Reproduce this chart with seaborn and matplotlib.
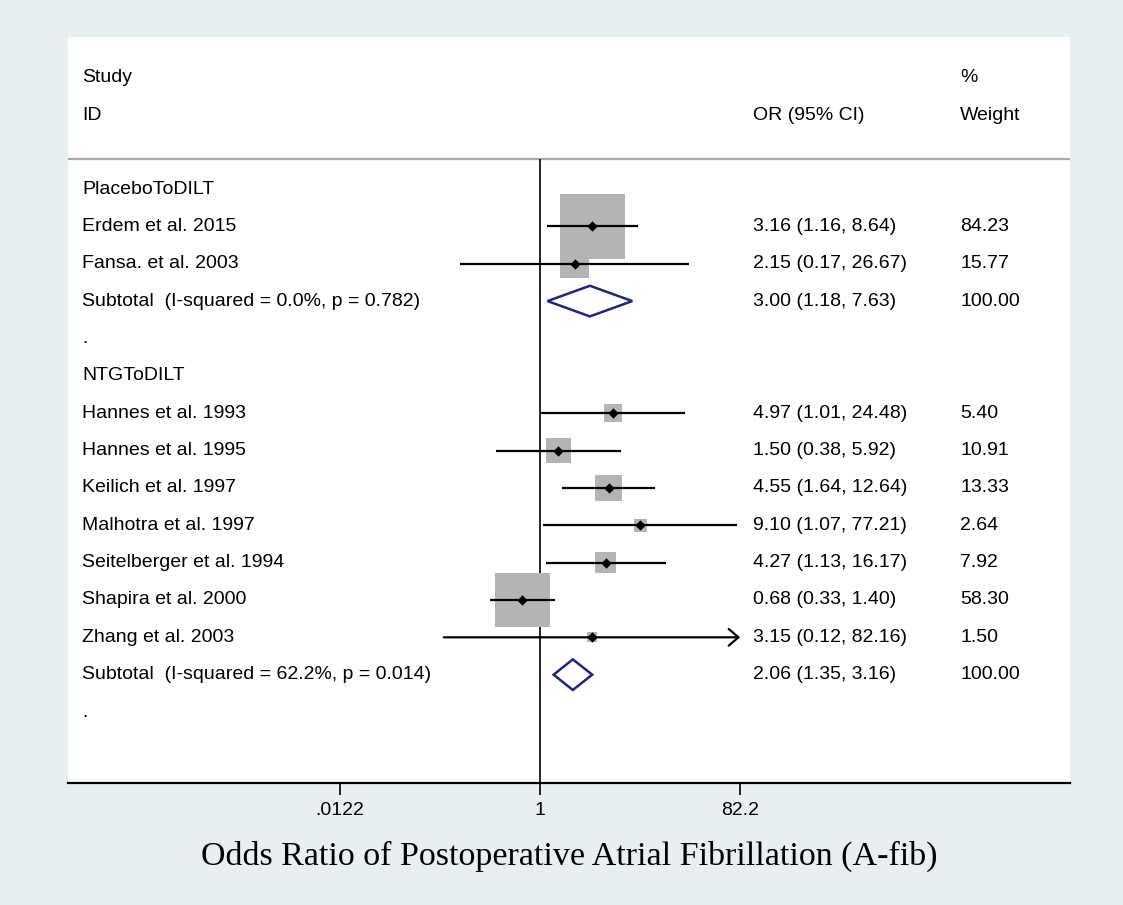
import numpy as np
import pandas as pd
import matplotlib
matplotlib.use("Agg")
import matplotlib.pyplot as plt
import seaborn as sns

# ---------------- data ----------------
row_labels = ["PlaceboToDILT", "Erdem et al. 2015", "Fansa. et al. 2003",
              "Subtotal  (I-squared = 0.0%, p = 0.782)", ".",
              "NTGToDILT", "Hannes et al. 1993", "Hannes et al. 1995",
              "Keilich et al. 1997", "Malhotra et al. 1997",
              "Seitelberger et al. 1994", "Shapira et al. 2000",
              "Zhang et al. 2003", "Subtotal  (I-squared = 62.2%, p = 0.014)", "."]
row_kind = ["group", "study", "study", "sub", "blank",
            "group", "study", "study", "study", "study", "study", "study",
            "study", "sub", "blank"]
or_est = [np.nan, 3.16, 2.15, 3.00, np.nan,
          np.nan, 4.97, 1.50, 4.55, 9.10, 4.27, 0.68, 3.15, 2.06, np.nan]
ci_low = [np.nan, 1.16, 0.17, 1.18, np.nan,
          np.nan, 1.01, 0.38, 1.64, 1.07, 1.13, 0.33, 0.12, 1.35, np.nan]
ci_high = [np.nan, 8.64, 26.67, 7.63, np.nan,
           np.nan, 24.48, 5.92, 12.64, 77.21, 16.17, 1.40, 82.16, 3.16, np.nan]
weights = [np.nan, 84.23, 15.77, 100.00, np.nan,
           np.nan, 5.40, 10.91, 13.33, 2.64, 7.92, 58.30, 1.50, 100.00, np.nan]
x_ticks = [0.0122, 1, 82.2]
x_tick_labels = [".0122", "1", "82.2"]
x_label = "Odds Ratio of Postoperative Atrial Fibrillation (A-fib)"

df = pd.DataFrame({"label": row_labels, "kind": row_kind, "est": or_est,
                   "lo": ci_low, "hi": ci_high, "w": weights})
df["row"] = np.arange(len(df))

# ---------------- style ----------------
sns.set_style("white")
plt.rcParams["font.family"] = ["Liberation Sans", "DejaVu Sans"]
plt.rcParams["text.color"] = "black"
plt.rcParams["xtick.color"] = "black"
plt.rcParams["axes.labelcolor"] = "black"

W, H = 1123, 905
bg = "#e8eff2"
fig = plt.figure(figsize=(W / 100, H / 100), dpi=100, facecolor=bg)
ax_l, ax_r, ax_t, ax_b = 68, 1070, 37, 783
ax = fig.add_axes([ax_l / W, 1 - ax_b / H, (ax_r - ax_l) / W, (ax_b - ax_t) / H])
ax.set_facecolor("white")

# x: log scale, px per ln unit
ppl = 45.4
x0 = 540
ax.set_xscale("log")
ax.set_xlim(np.exp((ax_l - x0) / ppl), np.exp((ax_r - x0) / ppl))
# y: rows
row0, rstep = 189, 37.36
ax.set_ylim((ax_b - row0) / rstep, (ax_t - row0) / rstep)
ybot = (ax_b - row0) / rstep
sep_y = (159 - row0) / rstep

for s in ["top", "left", "right"]:
    ax.spines[s].set_visible(False)
ax.spines["bottom"].set_linewidth(1.6)
ax.spines["bottom"].set_color("black")
ax.set_yticks([])
ax.set_xticks(x_ticks)
ax.set_xticklabels(x_tick_labels)
ax.xaxis.set_minor_locator(matplotlib.ticker.NullLocator())
ax.tick_params(axis="x", direction="out", length=8.5, width=1.2, color="black",
               labelsize=14, pad=5, bottom=True, labelcolor="black")
ax.set_xlabel(x_label, family=["Liberation Serif", "DejaVu Serif"], fontsize=24.5,
              labelpad=16, color="black")

# separator and null line
ax.axhline(sep_y, color="#a9a9a9", lw=1.6, zorder=1)
ax.vlines(1, sep_y, ybot, color="black", lw=1.2, zorder=1)

# squares
st = df[df.kind == "study"].copy()
side_px = 6.9 * np.sqrt(st["w"]) + 1.5
st["area"] = (side_px * 0.72) ** 2
amin, amax = st["area"].min(), st["area"].max()
sns.scatterplot(data=st, x="est", y="row", size="area", sizes=(amin, amax),
                size_norm=(amin, amax), marker="s", color="#b4b4b4",
                linewidth=0, legend=False, ax=ax, zorder=2)

# CI lines
for _, r in st.iterrows():
    if r["hi"] > 80:
        ax.annotate("", xy=(r["hi"], r["row"]), xytext=(r["lo"], r["row"]),
                    arrowprops=dict(arrowstyle="->,head_length=0.7,head_width=0.6",
                                    lw=1.6, color="black", shrinkA=0, shrinkB=0),
                    zorder=3)
    else:
        ax.hlines(r["row"], r["lo"], r["hi"], color="black", lw=1.6, zorder=3)

# point estimates
sns.scatterplot(data=st, x="est", y="row", marker="D", s=28, color="black",
                linewidth=0, legend=False, ax=ax, zorder=4)

# subtotal diamonds
sub = df[df.kind == "sub"]
for _, r in sub.iterrows():
    y = r["row"]
    ax.fill([r["lo"], r["est"], r["hi"], r["est"], r["lo"]],
            [y, y - 0.41, y, y + 0.41, y], facecolor="white",
            edgecolor="#1f2482", lw=1.8, zorder=3)

# text columns
tr = ax.get_yaxis_transform()
fs = 14
cx_label = (82 - ax_l) / (ax_r - ax_l)
cx_or = (753 - ax_l) / (ax_r - ax_l)
cx_w = (960 - ax_l) / (ax_r - ax_l)
hdr1 = (78 - row0) / rstep
hdr2 = (115 - row0) / rstep
kw = dict(transform=tr, fontsize=fs, va="center", ha="left", color="black")
ax.text(cx_label, hdr1, "Study", **kw)
ax.text(cx_label, hdr2, "ID", **kw)
ax.text(cx_or, hdr2, "OR (95% CI)", **kw)
ax.text(cx_w, hdr1, "%", **kw)
ax.text(cx_w, hdr2, "Weight", **kw)

for _, r in df.iterrows():
    ax.text(cx_label, r["row"], r["label"], **kw)
    if r["kind"] in ("study", "sub"):
        ax.text(cx_or, r["row"], f"{r['est']:.2f} ({r['lo']:.2f}, {r['hi']:.2f})", **kw)
        ax.text(cx_w, r["row"], f"{r['w']:.2f}", **kw)

fig.savefig("out.png", dpi=100, facecolor=bg)
